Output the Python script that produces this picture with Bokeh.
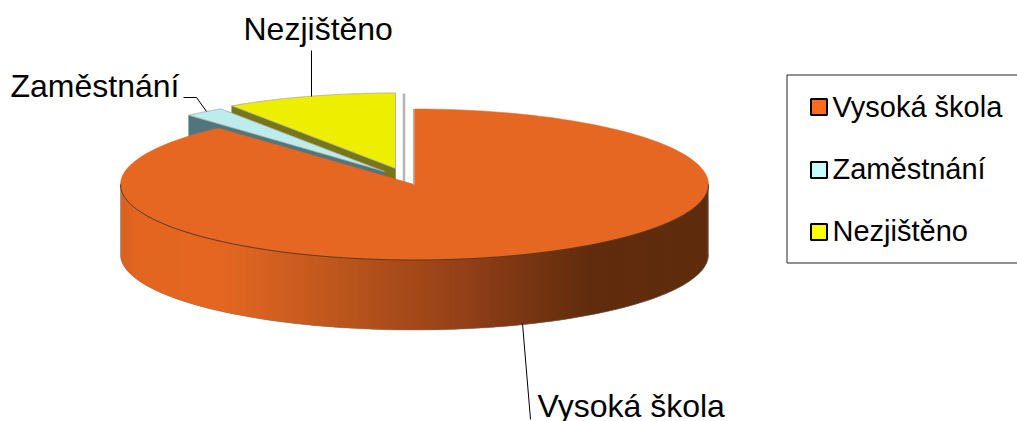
import numpy as np
from bokeh.plotting import figure
from bokeh.models import Range1d
from bokeh.core.properties import value
from bokeh.embed import file_html
from bokeh.resources import INLINE

categories = ["Vysoká škola", "Zaměstnání", "Nezjištěno"]
shares = [88.4, 2.2, 9.4]

legend_swatches = ["#ff6a21", "#c6ffff", "#ffff00"]
top_colors = ["#e56722", "#bdecec", "#eeee00"]
wall_colors = ["#e56722", "#50767c", "#77771a"]

CX, CY, RX, RY, DEPTH = 414.0, 184.0, 294.0, 75.5, 70.0
EXPLODE = [(0.0, 0.0), (-30.0, -13.0), (-19.0, -16.0)]
FONT = "Liberation Sans"

p = figure(width=1017, height=421, x_range=Range1d(0, 1017), y_range=Range1d(421, 0),
           output_backend="svg", toolbar_location=None, min_border=0,
           background_fill_color="white", border_fill_color="white")
p.axis.visible = False
p.grid.visible = False
p.outline_line_color = None

def pt(theta_deg, off=(0.0, 0.0), dz=0.0):
    t = np.radians(theta_deg)
    return CX + off[0] + RX * np.sin(t), CY + off[1] - RY * np.cos(t) + dz

# slice angular extents, clockwise from 12 o'clock
edges = np.concatenate([[0.0], np.cumsum(shares)]) * 3.6

def wedge(a0, a1, off):
    th = np.linspace(a0, a1, 160)
    x, y = pt(th, off)
    return ([CX + off[0]] + list(x), [CY + off[1]] + list(y))

# exploded small slices, back to front
for i in (2, 1):
    off = EXPLODE[i]
    a0 = edges[i]
    ox, oy = pt(a0, off)
    ax, ay = CX + off[0], CY + off[1]
    p.patch([ax, ox, ox, ax], [ay, oy, oy + DEPTH, ay + DEPTH],
            fill_color=wall_colors[i], line_color=wall_colors[i], line_width=0.5)
    wx, wy = wedge(edges[i], edges[i + 1], off)
    p.patch(wx, wy, fill_color=top_colors[i], line_color="#a9a9a0", line_width=0.8)

# pale vertical edges in the gap between the slices and the main slice
p.segment([403.5], [93], [403.5], [184], line_color="#b4b4b4", line_width=2.5)

# main slice: shaded outer wall made of thin strips (each overlaps the next)
grad_x = [120, 135, 221, 318, 463, 585, 708]
grad_c = [(214, 96, 33), (227, 102, 32), (229, 103, 34), (196, 90, 30), (148, 64, 24), (98, 45, 14), (96, 44, 14)]
th = np.linspace(90, 270, 181)
xs_l, ys_l, cols = [], [], []
for k in range(len(th) - 1):
    a, b = th[k], th[min(k + 2, len(th) - 1)]
    xa, ya = pt(a)
    xb, yb = pt(b)
    mid = (xa + pt(th[k + 1])[0]) / 2
    c = [int(np.interp(mid, grad_x, [g[j] for g in grad_c])) for j in range(3)]
    xs_l.append([xa, xb, xb, xa])
    ys_l.append([ya, yb, yb + DEPTH, ya + DEPTH])
    cols.append("#%02x%02x%02x" % tuple(c))
p.patches(xs_l, ys_l, fill_color=cols, line_color=None)
bx, by = pt(th, dz=DEPTH)
p.line(bx, by, line_color="#7a7a7a", line_width=0.7, line_alpha=0.7)
p.segment([CX - RX, CX + RX], [CY, CY], [CX - RX, CX + RX], [CY + DEPTH, CY + DEPTH],
          line_color="#999999", line_width=0.8)

wx, wy = wedge(edges[0], edges[1], (0, 0))
p.patch(wx, wy, fill_color=top_colors[0], line_color=top_colors[0], line_width=0.5)
p.segment([CX - 1], [108.5], [CX - 1], [CY], line_color="#b0b0b0", line_width=1.2)
fx, fy = pt(th)
p.line(fx, fy, line_color="#3a2a1a", line_width=1.0, line_alpha=0.8)

# leader lines
p.line([311, 311], [50, 96], line_color="black", line_width=1)
p.line([183, 196, 206], [97, 97, 111], line_color="black", line_width=1)
p.line([522, 530], [323, 419], line_color="black", line_width=1)

# data labels
p.text(x=[537, 10, 243], y=[405, 85, 28], text=categories,
       text_font=value(FONT), text_font_size="32px", text_color="black",
       text_baseline="alphabetic", text_align="left")

# legend
p.line([1020, 786.5, 786.5, 1020], [74.5, 74.5, 262.5, 262.5], line_color="#222222", line_width=1)
p.quad(left=[810.5] * 3, right=[826.5] * 3, top=[98.5, 161.5, 223.5], bottom=[114.5, 177.5, 239.5],
       fill_color=legend_swatches, line_color="black", line_width=2)
p.text(x=[832] * 3, y=[106, 168, 230], text=categories,
       text_font=value(FONT), text_font_size="29px", text_color="black",
       text_baseline="alphabetic", text_align="left")

open("out.html", "w").write(file_html(p, INLINE))
